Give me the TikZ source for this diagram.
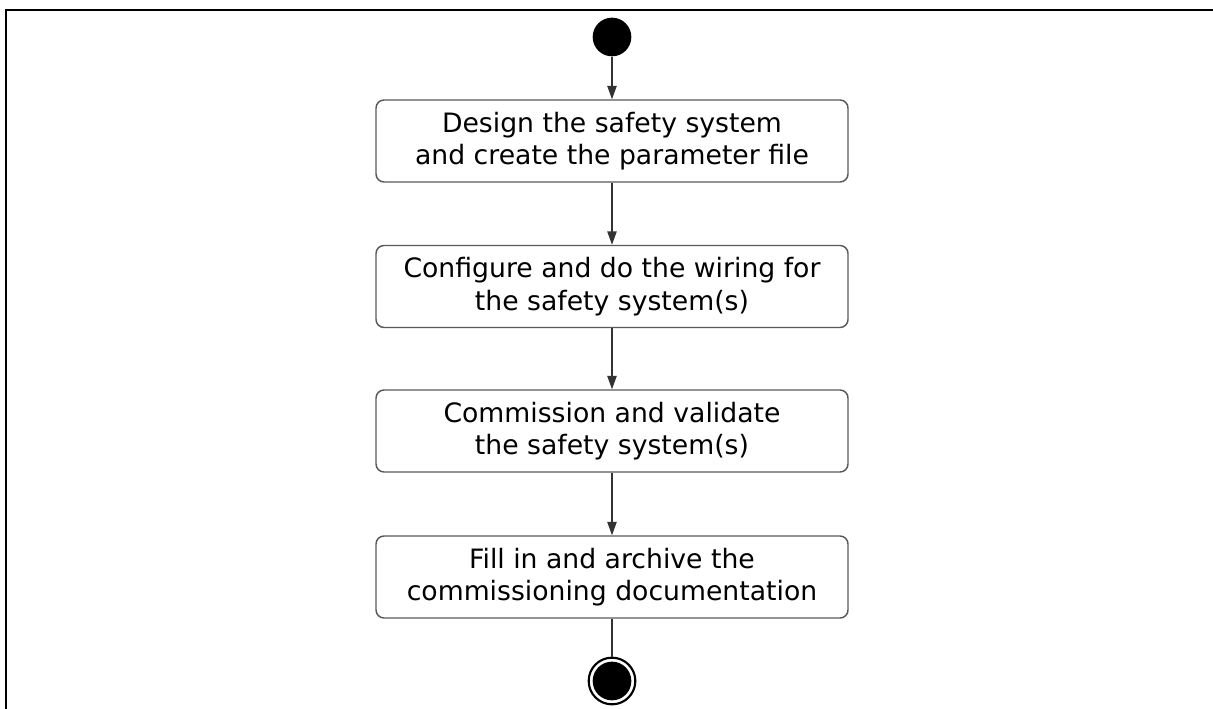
\documentclass[tikz,border=0pt]{standalone}
\usepackage{fontspec}
\setmainfont{DejaVu Sans}
\usetikzlibrary{arrows.meta}
\begin{document}
\begin{tikzpicture}[x=0.75pt,y=-0.75pt,
  actbox/.style={draw=black!65,line width=1.1pt,rounded corners=6pt,minimum width=354pt,minimum height=61.5pt,align=center,font=\fontsize{20}{24.5}\selectfont,inner sep=0pt},
  flow/.style={draw=black!80,line width=0.9pt,-{Triangle[length=10pt,width=7pt]}},
  plain/.style={draw=black!80,line width=0.9pt}]
\useasboundingbox (0,0) rectangle (1213,709);
\draw[line width=1.6pt] (6,709) -- (6,10) -- (1213,10);
\node[circle,fill=black,minimum size=29pt,inner sep=0pt] (start) at (612,37) {};
\node[actbox] (a) at (612,141) {Design the safety system\\and create the parameter file};
\node[actbox] (b) at (612,286.5) {Configure and do the wiring for\\the safety system(s)};
\node[actbox] (c) at (612,431) {Commission and validate\\the safety system(s)};
\node[actbox] (d) at (612,577) {Fill in and archive the\\commissioning documentation};
\node[circle,draw=black,line width=1.6pt,minimum size=35pt,inner sep=0pt] (end) at (612,681) {};
\fill[black] (end.center) circle (14.5pt);
\draw[flow] (start) -- (a);
\draw[flow] (a) -- (b);
\draw[flow] (b) -- (c);
\draw[flow] (c) -- (d);
\draw[plain] (d) -- (end);
\end{tikzpicture}
\end{document}
